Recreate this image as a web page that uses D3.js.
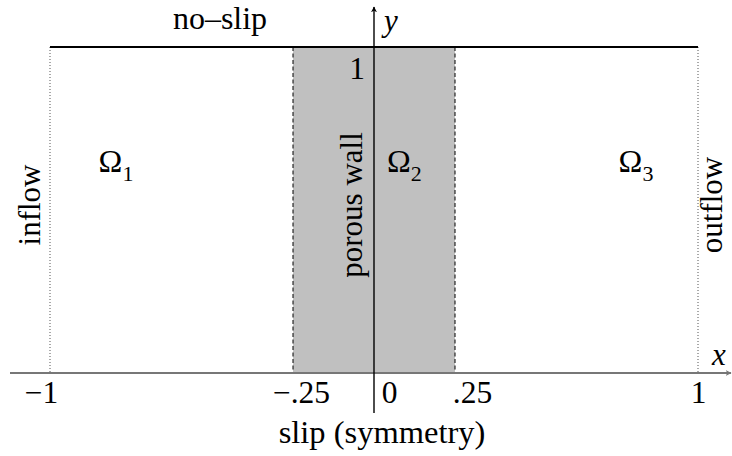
<!DOCTYPE html>
<html>
<head>
<meta charset="utf-8">
<script src="https://cdn.jsdelivr.net/npm/d3@7/dist/d3.min.js"></script>
<style>
  body { margin: 0; background: #fff; }
</style>
</head>
<body>
<script>
// domain boundaries along x (channel from -1 to 1, porous wall in the middle)
let bounds = [-1, -0.25, 0.25, 1];
let xTicks = [-1, -0.25, 0, 0.25, 1];
let xTickLabels = ["\u22121", "\u2212.25", "0", ".25", "1"];
let yTicks = [1];
let subdomains = ["1", "2", "3"];
let sideLabels = ["inflow", "porous wall", "outflow"];

let width = 732, height = 456;
let serif = "'Liberation Serif', 'Times New Roman', Times, serif";

let x = d3.scaleLinear().domain([-1, 1]).range([50, 698]);
let y = d3.scaleLinear().domain([0, 1]).range([373, 47]);

let svg = d3.select("body").append("svg")
    .attr("width", width)
    .attr("height", height)
    .style("font-family", serif);

let defs = svg.append("defs");
defs.append("marker")
    .attr("id", "arrBlack")
    .attr("viewBox", "0 0 10 10")
    .attr("refX", 9).attr("refY", 5)
    .attr("markerWidth", 6).attr("markerHeight", 6)
    .attr("markerUnits", "userSpaceOnUse")
    .attr("orient", "auto")
  .append("path").attr("d", "M0,0 L10,5 L0,10 L3,5 Z").attr("fill", "#000");
defs.append("marker")
    .attr("id", "arrGray")
    .attr("viewBox", "0 0 10 10")
    .attr("refX", 9).attr("refY", 5)
    .attr("markerWidth", 6).attr("markerHeight", 6)
    .attr("markerUnits", "userSpaceOnUse")
    .attr("orient", "auto")
  .append("path").attr("d", "M0,0 L10,5 L0,10 L3,5 Z").attr("fill", "#777");

// porous wall band
svg.append("rect")
    .attr("x", x(bounds[1]))
    .attr("y", y(1))
    .attr("width", x(bounds[2]) - x(bounds[1]))
    .attr("height", y(0) - y(1))
    .attr("fill", "#c0c0c0");

// inflow / outflow boundaries (dotted)
svg.selectAll(".edge")
    .data([bounds[0], bounds[3]])
    .enter().append("line")
    .attr("class", "edge")
    .attr("x1", d => x(d)).attr("x2", d => x(d))
    .attr("y1", y(1)).attr("y2", y(0))
    .attr("stroke", "#555")
    .attr("stroke-width", 1)
    .attr("stroke-dasharray", "1,2");

// porous wall interfaces (dashed)
svg.selectAll(".iface")
    .data([bounds[1], bounds[2]])
    .enter().append("line")
    .attr("class", "iface")
    .attr("x1", d => x(d)).attr("x2", d => x(d))
    .attr("y1", y(1)).attr("y2", y(0))
    .attr("stroke", "#000")
    .attr("stroke-width", 1)
    .attr("stroke-dasharray", "4,2.5");

// no-slip top wall
svg.append("line")
    .attr("x1", x(-1)).attr("x2", x(1))
    .attr("y1", y(1)).attr("y2", y(1))
    .attr("stroke", "#000")
    .attr("stroke-width", 2.2);

// x axis (gray, arrow)
svg.append("line")
    .attr("x1", 10).attr("x2", 731)
    .attr("y1", y(0)).attr("y2", y(0))
    .attr("stroke", "#777")
    .attr("stroke-width", 2)
    .attr("marker-end", "url(#arrGray)");

let xAxis = d3.axisBottom(x)
    .tickValues(xTicks)
    .tickSize(0)
    .tickFormat((d, i) => xTickLabels[i]);

let dxs = [-9, 8, 15, 17, 0];
let gx = svg.append("g")
    .attr("transform", "translate(0," + y(0) + ")")
    .call(xAxis)
    .attr("font-family", null)
    .attr("font-size", null);
gx.select(".domain").remove();
gx.selectAll("text")
    .attr("y", 30)
    .attr("dy", 0)
    .attr("dx", (d, i) => dxs[i])
    .style("font-size", "31.5px")
    .style("font-family", serif)
    .attr("fill", "#000");

// y axis (black, arrow)
svg.append("line")
    .attr("x1", x(0)).attr("x2", x(0))
    .attr("y1", 413).attr("y2", 7)
    .attr("stroke", "#000")
    .attr("stroke-width", 1.4)
    .attr("marker-end", "url(#arrBlack)");

svg.selectAll(".ytick")
    .data(yTicks)
    .enter().append("text")
    .attr("class", "ytick")
    .attr("x", x(0) - 9)
    .attr("y", d => y(d) + 32)
    .attr("text-anchor", "end")
    .style("font-family", serif)
    .style("font-size", "31.5px")
    .text(d => d);

// axis names
svg.append("text")
    .attr("x", x(1) + 14).attr("y", y(0) - 8)
    .style("font-family", serif)
    .style("font-size", "31px").style("font-style", "italic")
    .text("x");
svg.append("text")
    .attr("x", x(0) + 10).attr("y", 31)
    .style("font-family", serif)
    .style("font-size", "31px").style("font-style", "italic")
    .text("y");

// boundary condition labels
svg.append("text")
    .attr("x", 220).attr("y", 29)
    .attr("text-anchor", "middle")
    .style("font-family", serif)
    .style("font-size", "32px")
    .text("no\u2013slip");
svg.append("text")
    .attr("x", 382).attr("y", 443)
    .attr("text-anchor", "middle")
    .style("font-family", serif)
    .style("font-size", "32.5px")
    .text("slip (symmetry)");

// rotated side labels
let sideX = [x(bounds[0]) - 10, x(0) - 12, x(bounds[3]) + 24];
svg.selectAll(".side")
    .data(sideLabels)
    .enter().append("text")
    .attr("class", "side")
    .attr("transform", (d, i) => "translate(" + sideX[i] + "," + 205 + ") rotate(-90)")
    .attr("text-anchor", "middle")
    .style("font-family", serif)
    .style("font-size", "31px")
    .text(d => d);

// subdomain labels
let omegaX = [x(-0.85), x(0.04), x(0.755)];
let om = svg.selectAll(".omega")
    .data(subdomains)
    .enter().append("text")
    .attr("class", "omega")
    .attr("x", (d, i) => omegaX[i])
    .attr("y", 172)
    .style("font-family", serif)
    .style("font-size", "32px");
om.append("tspan").text("\u03a9");
om.append("tspan")
    .attr("dy", 9)
    .style("font-size", "22px")
    .text(d => d);
</script>
</body>
</html>
